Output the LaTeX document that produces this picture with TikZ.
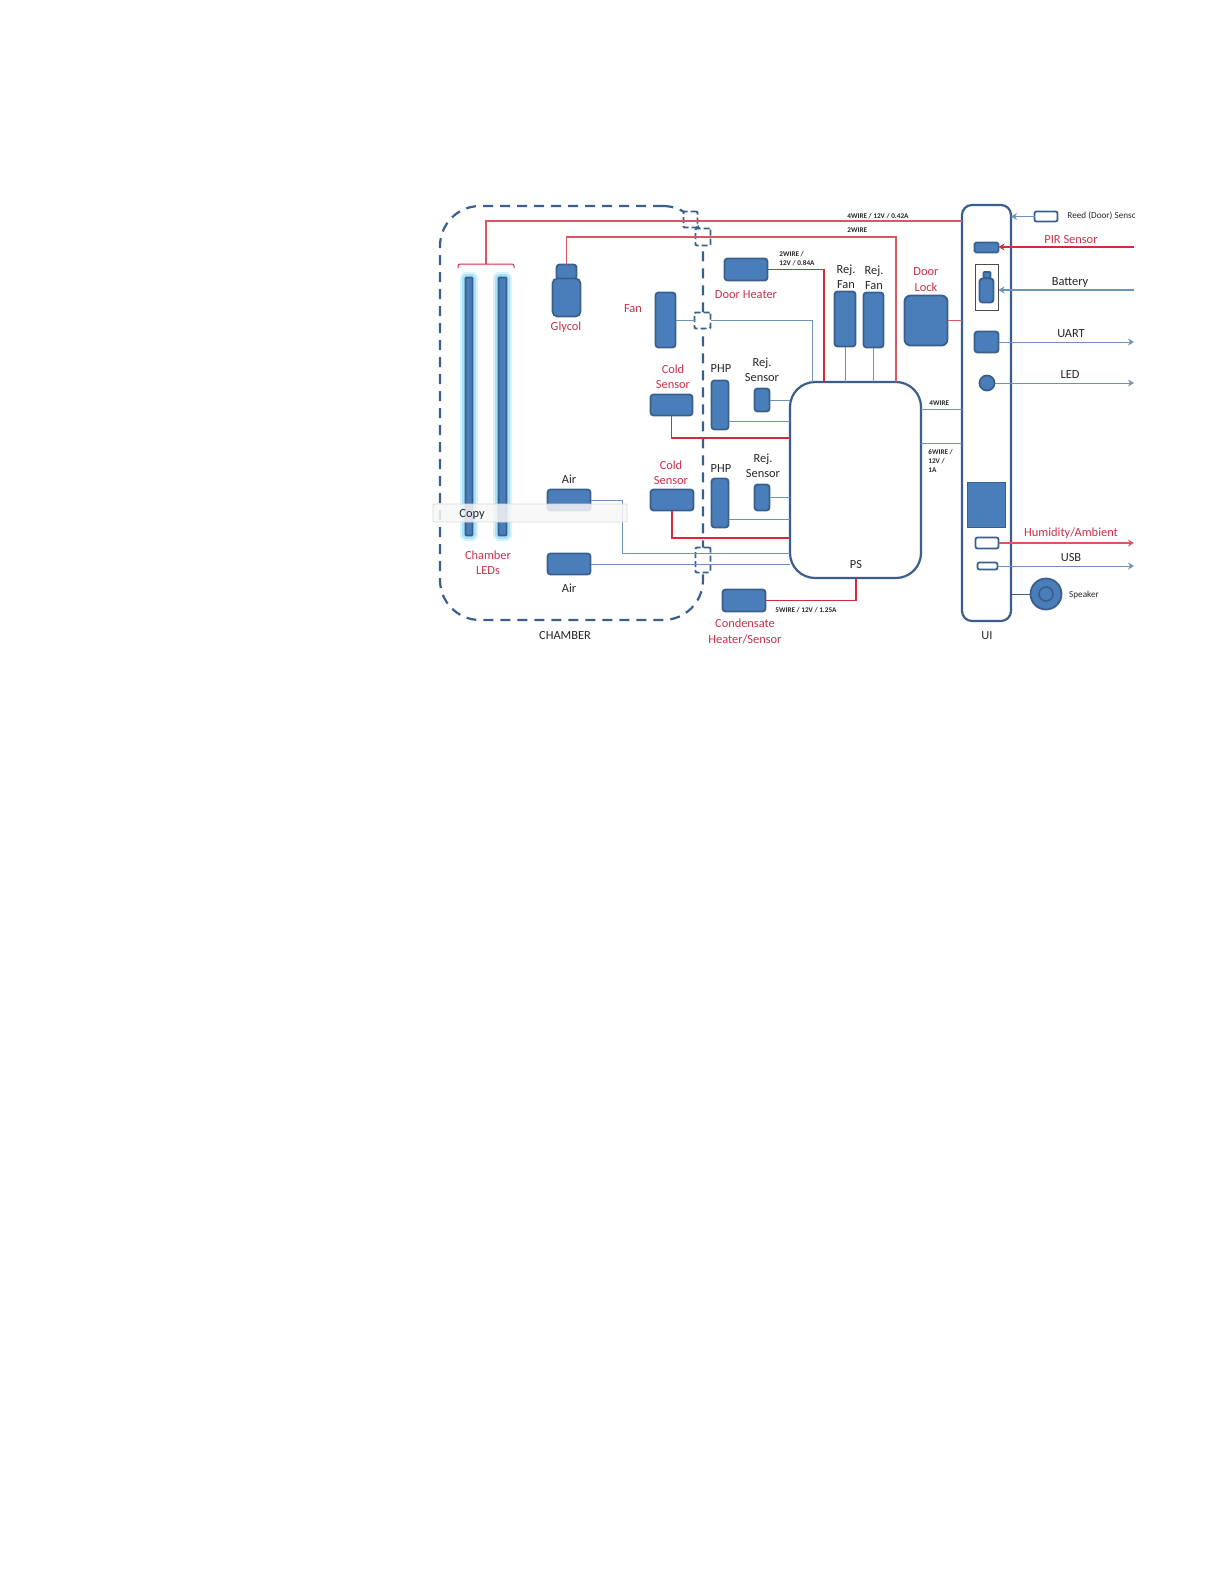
\documentclass[tikz,border=0pt]{standalone}
\usepackage{fontspec}
\setmainfont{Carlito}
\usetikzlibrary{positioning, arrows.meta}

\definecolor{unitblue}{HTML}{4A7EBB}
\definecolor{unitedge}{HTML}{3A5F8C}
\definecolor{wireblue}{HTML}{6F92BC}
\definecolor{wirered}{HTML}{D42A3C}
\definecolor{labelred}{HTML}{C9304A}

\begin{document}
\begin{tikzpicture}[
    x=0.5pt, y=-0.5pt,
    unit/.style={draw=unitedge, fill=unitblue, line width=0.9pt, rounded corners=1.5pt, inner sep=0pt, outer sep=0pt},
    hollow/.style={draw=unitedge, fill=white, line width=0.9pt, rounded corners=1pt, inner sep=0pt, outer sep=0pt},
    frame/.style={draw=unitedge, fill=white, line width=1.1pt, inner sep=0pt, outer sep=0pt},
    joint/.style={draw=unitedge, fill=white, line width=0.9pt, dash pattern=on 3pt off 1.5pt, rounded corners=0.5pt, inner sep=0pt, outer sep=0pt},
    led/.style={unit, rounded corners=0.5pt, preaction={draw=cyan!15, line width=5.5pt}, preaction={draw=cyan!35, line width=3.5pt}},
    wire/.style={draw=wireblue, line width=0.5pt},
    redwire/.style={draw=wirered, line width=0.6pt},
    palewire/.style={draw=wirered!80, line width=0.55pt},
    arrow/.style={-{Stealth[length=3pt, width=3.5pt]}},
    tag/.style={font=\fontsize{6.2}{7.6}\selectfont, align=center, text=black!85, inner sep=0pt},
    redtag/.style={tag, text=labelred},
    small/.style={font=\fontsize{3.6}{4.6}\selectfont\bfseries, align=left, inner sep=0pt, anchor=west, text=black!85}
]
    \useasboundingbox (0,0) rectangle (1224,1584);

    % === Chamber ===
    \node[frame, fill=none, dash pattern=on 5pt off 3.5pt, rounded corners=20pt, minimum width=131.5pt, minimum height=207pt] (chamber) at (571.5,413) {};
    \node[tag] (chamberlabel) at (565,636) {CHAMBER};

    % Wall joints
    \node[joint, minimum width=7pt, minimum height=8pt] (jointA) at (690.5,219.5) {};
    \node[joint, minimum width=7.5pt, minimum height=8.5pt] (jointB) at (703,237) {};
    \node[joint, minimum width=8pt, minimum height=8pt] (jointC) at (702.5,320.5) {};
    \node[joint, minimum width=7.5pt, minimum height=12.5pt] (jointD) at (703,560) {};

    % === Chamber parts ===
    \node[led, minimum width=3.5pt, minimum height=129pt] (ledA) at (469,406.5) {};
    \node[led, minimum width=4pt, minimum height=129pt] (ledB) at (502.5,406.5) {};
    \node[redtag] (ledlabel) at (488,563) {Chamber\\LEDs};

    \node[unit, minimum width=10pt, minimum height=7.5pt] (glycolcap) at (566.5,272) {};
    \node[unit, rounded corners=2.5pt, minimum width=14pt, minimum height=19pt] (glycol) at (566.5,297.5) {};
    \node[redtag] (glycollabel) at (566,327) {Glycol};

    \node[unit, minimum width=10pt, minimum height=27.5pt] (fan) at (665.5,320) {};
    \node[redtag] (fanlabel) at (633,309) {Fan};

    \node[unit, minimum width=21pt, minimum height=10.5pt] (coldA) at (671.5,405) {};
    \node[redtag] (coldAlabel) at (673,377) {Cold\\Sensor};
    \node[unit, minimum width=21.5pt, minimum height=10.5pt] (coldB) at (672,500) {};
    \node[redtag] (coldBlabel) at (671,473) {Cold\\Sensor};

    \node[unit, minimum width=21.5pt, minimum height=10.5pt] (airA) at (569,500) {};
    \node[tag] (airAlabel) at (569,479) {Air};
    \node[unit, minimum width=21.5pt, minimum height=10.5pt] (airB) at (569,564) {};
    \node[tag] (airBlabel) at (569,588) {Air};

    % === Power stage side ===
    \node[frame, rounded corners=12.5pt, minimum width=65.5pt, minimum height=98pt] (ps) at (855.5,480) {};
    \node[tag] (pslabel) at (856,565) {PS};

    \node[unit, minimum width=8.5pt, minimum height=24.5pt] (phpA) at (720,405) {};
    \node[tag] (phpAlabel) at (721,369) {PHP};
    \node[unit, minimum width=8.5pt, minimum height=24.5pt] (phpB) at (720,503) {};
    \node[tag] (phpBlabel) at (721,469) {PHP};

    \node[unit, minimum width=7.5pt, minimum height=11.5pt] (rejA) at (762,400) {};
    \node[tag] (rejAlabel) at (762,370) {Rej.\\Sensor};
    \node[unit, minimum width=7.5pt, minimum height=13pt] (rejB) at (762,497.5) {};
    \node[tag] (rejBlabel) at (763,465.5) {Rej.\\Sensor};

    \node[unit, minimum width=21.5pt, minimum height=11pt] (doorheater) at (746,269.5) {};
    \node[redtag] (doorheaterlabel) at (746,295) {Door Heater};

    \node[unit, minimum width=10.5pt, minimum height=27.5pt] (rejfanA) at (845,319) {};
    \node[tag] (rejfanAlabel) at (846,277) {Rej.\\Fan};
    \node[unit, minimum width=10pt, minimum height=27.5pt] (rejfanB) at (873.5,320) {};
    \node[tag] (rejfanBlabel) at (874,277.5) {Rej.\\Fan};

    \node[unit, rounded corners=3pt, minimum width=21.5pt, minimum height=25pt] (doorlock) at (926,320.5) {};
    \node[redtag] (doorlocklabel) at (926,279.5) {Door\\Lock};

    \node[unit, minimum width=21.5pt, minimum height=11pt] (condensate) at (744,600.5) {};
    \node[redtag] (condensatelabel) at (745,631.5) {Condensate\\Heater/Sensor};

    % === UI panel ===
    \node[frame, rounded corners=5pt, minimum width=24.5pt, minimum height=208pt] (ui) at (986.5,413) {};
    \node[tag] (uilabel) at (987,636) {UI};

    \node[unit, rounded corners=0.8pt, minimum width=12pt, minimum height=5pt] (pir) at (986.5,247.5) {};
    \node[frame, draw=black!70, line width=0.7pt, minimum width=11.5pt, minimum height=23pt] (batterybay) at (987,287.5) {};
    \node[unit, rounded corners=0.5pt, minimum width=3.5pt, minimum height=3pt] (batterycap) at (987,275) {};
    \node[unit, minimum width=7pt, minimum height=12pt] (battery) at (986.5,290.5) {};
    \node[unit, minimum width=12pt, minimum height=10.5pt] (uart) at (986.5,342) {};
    \node[unit, circle, minimum size=7.5pt] (ledport) at (987,383) {};
    \node[unit, rounded corners=0pt, minimum width=19pt, minimum height=22.5pt] (display) at (986.5,505) {};
    \node[hollow, minimum width=11.5pt, minimum height=5.5pt] (humidity) at (987,543) {};
    \node[hollow, minimum width=10pt, minimum height=3.5pt] (usb) at (987.5,566) {};

    \node[hollow, minimum width=11.5pt, minimum height=5pt] (reed) at (1046,216.5) {};
    \node[unit, circle, minimum size=15.5pt] (speaker) at (1046,594) {};
    \node[unit, circle, fill=none, minimum size=7pt] (speakercore) at (1046,594) {};

    % Free ends on the right
    \coordinate (pirend) at (1134,247);
    \coordinate (batteryend) at (1134,290);
    \coordinate (uartend) at (1134,342);
    \coordinate (ledend) at (1134,383);
    \coordinate (humidityend) at (1134,543);
    \coordinate (usbend) at (1134,566);

    % === Red wiring ===
    \coordinate (ledtap) at (486,264);
    \draw[palewire] (ui.west |- 0,221) -- (486,221) -- (ledtap);
    \draw[redwire, line width=0.5pt, rounded corners=1pt] (458,268) -- (458,264) -- (514,264) -- (514,268);
    \draw[palewire] (glycolcap.north) |- (896,237) -- (ps.north -| 896,0);
    \draw[redwire] (doorheater.east) -| (ps.north -| 824,0);
    \draw[palewire] (doorlock.east) -- (ui.west |- doorlock.east);
    \draw[redwire] (coldA.south) |- (ps.west |- 0,438);
    \draw[redwire] (coldB.south) |- (ps.west |- 0,538);
    \draw[redwire] (condensate.east) -| (ps.south -| 856,0);

    % === Blue wiring ===
    \draw[wire] (fan.east |- jointC.west) -- (jointC.west);
    \draw[wire] (jointC.east) -| (ps.north -| 812,0);
    \draw[wire] (rejfanA.south) -- (ps.north -| rejfanA.south);
    \draw[wire] (rejfanB.south) -- (ps.north -| rejfanB.south);
    \draw[wire] (rejA.east) -- (ps.west |- rejA.east);
    \draw[wire] (rejB.east) -- (ps.west |- rejB.east);
    \draw[wire] (phpA.east |- 0,421) -- (ps.west |- 0,421);
    \draw[wire] (phpB.east |- 0,519) -- (ps.west |- 0,519);
    \draw[wire] (airA.east) -- (622,500) |- (ps.west |- 0,553);
    \draw[wire] (airB.east) -- (ps.west |- airB.east);
    \draw[wire] (ps.east |- 0,409) -- (ui.west |- 0,409);
    \draw[wire] (ps.east |- 0,443) -- (ui.west |- 0,443);
    \draw[wire, draw=unitedge] (speaker.west) -- (ui.east |- speaker.west);

    % === Arrows at the UI ===
    \draw[wire, arrow, line width=0.7pt] (reed.west) -- (ui.east |- reed.west);
    \draw[redwire, arrow, line width=0.7pt] (pirend) -- (pir.east |- pirend);
    \draw[wire, arrow, line width=0.8pt] (batteryend) -- (batterybay.east |- batteryend);
    \draw[wire, arrow] (uart.east) -- (uartend);
    \draw[wire, arrow] (ledport.east) -- (ledend);
    \draw[palewire, arrow] (humidity.east) -- (humidityend);
    \draw[wire, arrow] (usb.east) -- (usbend);

    % === Wire notes ===
    \node[small] (noteA) at (847,216) {4WIRE / 12V / 0.42A};
    \node[small] (noteB) at (847,230) {2WIRE};
    \node[small] (noteC) at (779,259) {2WIRE /\\12V / 0.84A};
    \node[small] (noteD) at (929,403) {4WIRE};
    \node[small] (noteE) at (928,461) {6WIRE /\\12V /\\1A};
    \node[small] (noteF) at (775,610) {5WIRE / 12V / 1.25A};

    % === Right side labels ===
    \begin{scope}
        \clip (1060,205) rectangle (1134,226);
        \node[tag, font=\fontsize{4.6}{5}\selectfont, anchor=west] (reedlabel) at (1067,216) {Reed (Door) Sensor};
    \end{scope}
    \node[redtag] (pirlabel) at (1071,240) {PIR Sensor};
    \node[tag] (batterylabel) at (1070,283) {Battery};
    \node[tag] (uartlabel) at (1071,334) {UART};
    \node[tag] (ledlabelright) at (1070,375) {LED};
    \node[redtag] (humiditylabel) at (1071,533) {Humidity/Ambient};
    \node[tag] (usblabel) at (1071,558) {USB};
    \node[tag, font=\fontsize{4.6}{5}\selectfont] (speakerlabel) at (1084,595) {Speaker};

    % === Copy bar ===
    \node[draw=black!15, fill=black!3, fill opacity=0.85, line width=0.4pt, rounded corners=0.5pt, inner sep=0pt, minimum width=97pt, minimum height=9pt] (copybar) at (530,513) {};
    \node[tag] (copylabel) at (472,514) {Copy};
\end{tikzpicture}
\end{document}
